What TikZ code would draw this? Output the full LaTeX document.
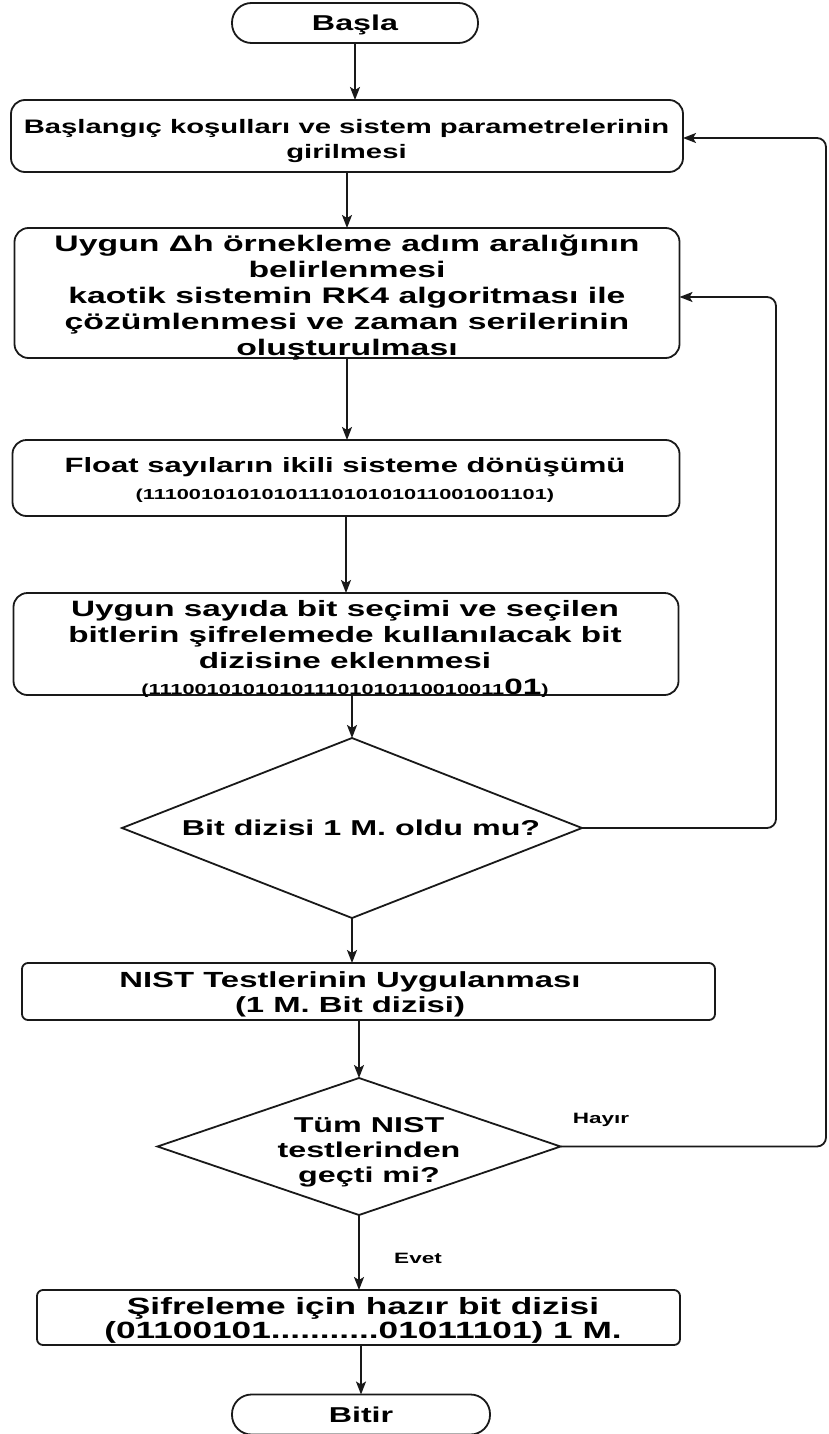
\documentclass[tikz,border=0pt]{standalone}
\usepackage{fontspec}
\setmainfont{Liberation Sans}[FakeStretch=1.5]
\usetikzlibrary{shapes.geometric,arrows.meta,calc}

\newcommand\fsMain{\fontsize{21.5}{25}\selectfont}
\newcommand\fsSmall{\fontsize{19.5}{25}\selectfont}
\newcommand\fsBig{\fontsize{22.5}{26}\selectfont}
\newcommand\fsBits{\fontsize{14.5}{20}\selectfont}
\newcommand\fsLabel{\fontsize{15}{18}\selectfont}

\begin{document}
\begin{tikzpicture}[x=1pt,y=-1pt,
  every node/.style={font=\bfseries, text=black},
  stroke/.style={draw=black!90, line width=1.8pt},
  terminal/.style={stroke, rounded corners=19.5pt, inner sep=0pt, outer sep=0pt, font=\bfseries\fsMain, text depth=0pt},
  procbox/.style={stroke, rounded corners=14pt, inner sep=0pt, outer sep=0pt},
  flatbox/.style={stroke, rounded corners=6pt, inner sep=0pt, outer sep=0pt},
  decision/.style={stroke, diamond, inner sep=0pt, outer sep=0pt},
  boxtext/.style={align=center, inner sep=0pt},
  flow/.style={stroke, -{Stealth[length=13pt,width=10pt,inset=3pt]}},
  loop/.style={flow, rounded corners=9pt},
  tag/.style={font=\bfseries\fsLabel}
]
\useasboundingbox (0,0) rectangle (828,1434);

% terminals
\node[terminal, minimum width=246pt, minimum height=40pt] (start) at (355,23) {Başla};
\node[terminal, minimum width=258pt, minimum height=40pt] (stop) at (361,1414.5) {Bitir};

% process steps: outlines
\node[procbox, minimum width=672pt, minimum height=72pt] (b1) at (347,136) {};
\node[procbox, minimum width=665pt, minimum height=130pt] (b2) at (347,293) {};
\node[procbox, minimum width=667pt, minimum height=76pt] (b3) at (346,478) {};
\node[procbox, minimum width=665pt, minimum height=102pt] (b4) at (346,644) {};
\node[decision, minimum width=460pt, minimum height=180pt] (d1) at (352,828) {};
\node[flatbox, minimum width=693pt, minimum height=57pt] (b5) at (368.5,991.5) {};
\node[decision, minimum width=403pt, minimum height=137pt] (d2) at (359,1146.5) {};
\node[flatbox, minimum width=643pt, minimum height=55pt] (b6) at (358.5,1317.5) {};

% process steps: texts
\node[boxtext, font=\bfseries\fsSmall] (b1t) at (346.5,141.5)
  {Başlangıç koşulları ve sistem parametrelerinin\\girilmesi};
\node[boxtext, font=\bfseries\fsBig] (b2t) at (347,298)
  {Uygun Δh örnekleme adım aralığının\\belirlenmesi\\kaotik sistemin RK4 algoritması ile\\çözümlenmesi ve zaman serilerinin\\oluşturulması};
\node[boxtext, font=\bfseries\fontsize{20.7}{25}\selectfont] (b3t) at (345,480)
  {Float sayıların ikili sisteme dönüşümü\\[3pt]{\fsBits(1110010101010111010101011001001101)}};
\node[boxtext, font=\bfseries\fontsize{22.2}{26}\selectfont] (b4t) at (345,648.5)
  {Uygun sayıda bit seçimi ve seçilen\\bitlerin şifrelemede kullanılacak bit\\dizisine eklenmesi\\{\fsBits(111001010101011101010110010011{\fontsize{22.2}{26}\selectfont 01})}};
\node[boxtext, font=\bfseries\fsMain] (d1t) at (361,828) {Bit dizisi 1 M. oldu mu?};
\node[boxtext, font=\bfseries\fontsize{21.9}{25}\selectfont] (b5t) at (350,994.5)
  {NIST Testlerinin Uygulanması\\(1 M. Bit dizisi)};
\node[boxtext, font=\bfseries\fsMain] (d2t) at (369,1152) {Tüm NIST\\testlerinden\\geçti mi?};
\node[boxtext, font=\bfseries\fontsize{23.5}{24.5}\selectfont] (b6t) at (363,1320.5)
  {Şifreleme için hazır bit dizisi\\(01100101...........01011101) 1 M.};

% branch labels
\node[tag] (no) at (601,1120) {Hayır};
\node[tag] (yes) at (418,1258) {Evet};

% return path corners
\coordinate (rtop) at (826,138);
\coordinate (rmid) at (776,297);

% main flow
\draw[flow] (start.south) -- (start.south |- b1.north);
\draw[flow] (b1.south) -- (b1.south |- b2.north);
\draw[flow] (b2.south) -- (b2.south |- b3.north);
\draw[flow] (b3.south) -- (b3.south |- b4.north);
\draw[flow] (d1.north |- b4.south) -- (d1.north);
\draw[flow] (d1.south) -- (d1.south |- b5.north);
\draw[flow] (d2.north |- b5.south) -- (d2.north);
\draw[flow] (d2.south) -- (d2.south |- b6.north);
\draw[flow] (stop.north |- b6.south) -- (stop.north);

% loops back
\draw[loop] (d1.east) -| (rmid) -- (b2.east |- rmid);
\draw[loop] (d2.east) -| (rtop) -- (b1.east |- rtop);
\end{tikzpicture}
\end{document}
